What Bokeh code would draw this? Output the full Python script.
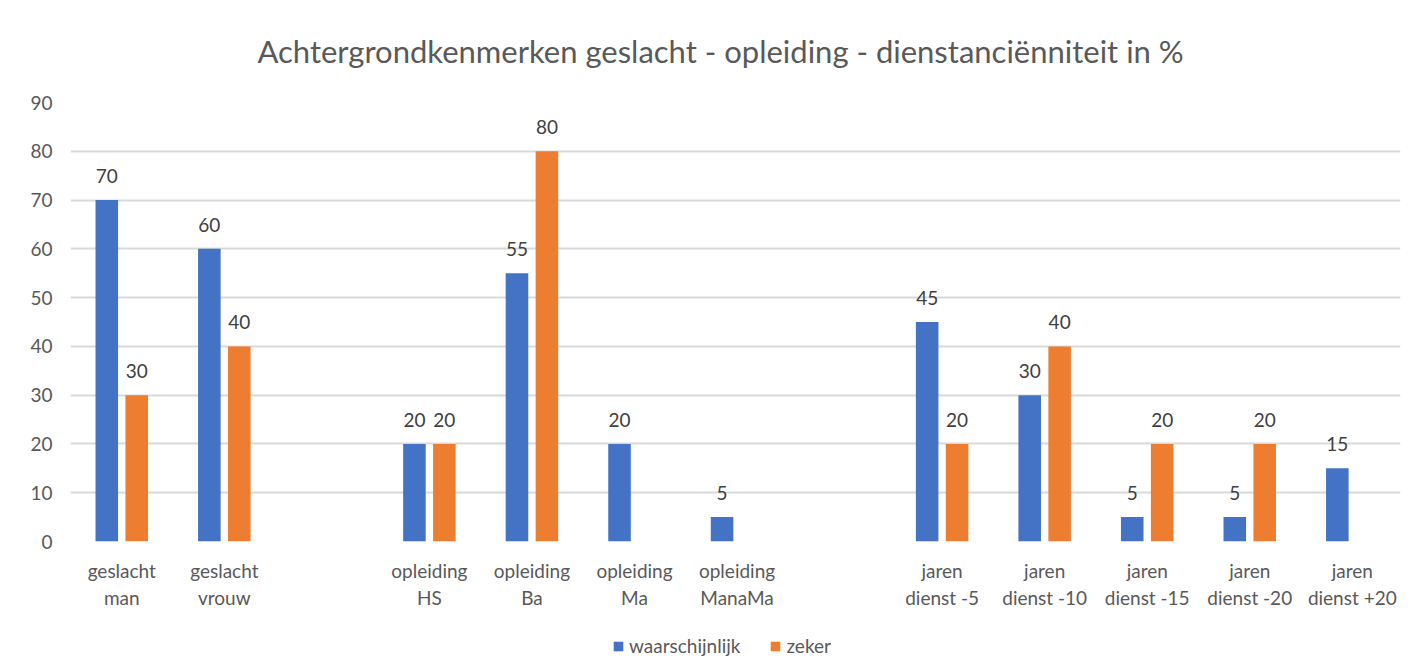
from bokeh.plotting import figure
from bokeh.layouts import column
from bokeh.models import ColumnDataSource, Range1d, FixedTicker, LabelSet, Legend, LegendItem
from bokeh.core.properties import value
from bokeh.transform import dodge
from bokeh.embed import file_html
from bokeh.resources import INLINE

chart_title = "Achtergrondkenmerken geslacht - opleiding - dienstanciënniteit in %"
categories = ["geslacht man", "geslacht vrouw", "",
              "opleiding HS", "opleiding Ba", "opleiding Ma", "opleiding ManaMa", "",
              "jaren dienst -5", "jaren dienst -10", "jaren dienst -15",
              "jaren dienst -20", "jaren dienst +20"]
waarschijnlijk = [70, 60, None, 20, 55, 20, 5, None, 45, 30, 5, 5, 15]
zeker = [30, 40, None, 20, 80, None, None, None, 20, 40, 20, 20, None]
series_names = ["waarschijnlijk", "zeker"]
series_colors = ["#4472C4", "#ED7D31"]
y_ticks = [0, 10, 20, 30, 40, 50, 60, 70, 80, 90]

FONT = "Lato"
GREY = "#595959"

p = figure(frame_width=1330, frame_height=439, output_backend="svg", toolbar_location=None,
           x_range=Range1d(-0.5, 12.47), y_range=Range1d(0, 90),
           min_border_left=70, min_border_right=5, min_border_top=100,
           min_border_bottom=78)

p.title.text = chart_title
p.title.align = "left"
p.title.offset = 187
p.title.vertical_align = "top"
p.title.text_font = FONT
p.title.text_font_size = "31px"
p.title.text_font_style = "normal"
p.title.text_color = GREY
p.title.standoff = 62

offsets = [-0.146, 0.146]
for name, vals, col, off in zip(series_names, [waarschijnlijk, zeker], series_colors, offsets):
    xs = [i for i, v in enumerate(vals) if v is not None]
    ys = [v for v in vals if v is not None]
    src = ColumnDataSource(dict(x=xs, y=ys, lbl=[str(v) for v in ys]))
    p.vbar(x=dodge("x", off, range=p.x_range), top="y", width=0.22, source=src,
           fill_color=col, line_color=None)
    labels = LabelSet(x=dodge("x", off, range=p.x_range), y="y", text="lbl", source=src,
                      text_align="center", text_baseline="bottom", y_offset=17,
                      text_font=value(FONT), text_font_size=value("19px"),
                      text_color="#404040")
    p.add_layout(labels)

p.yaxis.ticker = FixedTicker(ticks=y_ticks)
p.yaxis.axis_line_color = None
p.yaxis.major_tick_line_color = None
p.yaxis.minor_tick_line_color = None
p.yaxis.major_label_text_font = FONT
p.yaxis.major_label_text_font_size = "19px"
p.yaxis.major_label_text_color = GREY
p.yaxis.major_label_standoff = 12

p.xaxis.ticker = FixedTicker(ticks=[i for i, c in enumerate(categories) if c])
p.xaxis.major_label_overrides = {i: c.replace(" ", "\n", 1) for i, c in enumerate(categories) if c}
p.xaxis.axis_line_color = None
p.xaxis.major_tick_line_color = None
p.xaxis.minor_tick_line_color = None
p.xaxis.major_label_text_font = FONT
p.xaxis.major_label_text_font_size = "19px"
p.xaxis.major_label_text_color = GREY
p.xaxis.major_label_text_line_height = 1.18
p.xaxis.major_label_standoff = 11

p.xgrid.visible = False
p.ygrid.ticker = FixedTicker(ticks=y_ticks)
p.ygrid.grid_line_color = "#d9d9d9"
p.ygrid.grid_line_width = 2
p.outline_line_color = None

# legend strip below the chart (proxy swatches for the two series, outside the visible range)
lg = figure(width=1405, height=54, output_backend="svg", toolbar_location=None,
            x_range=Range1d(0, 1), y_range=Range1d(0, 1),
            x_axis_type=None, y_axis_type=None,
            min_border_left=0, min_border_right=0, min_border_top=0, min_border_bottom=0)
lg.outline_line_color = None
legend_items = []
for name, col in zip(series_names, series_colors):
    r = lg.vbar(x=[-10], top=[-10], bottom=[-11], width=0.1, fill_color=col, line_color=None)
    legend_items.append(LegendItem(label=name, renderers=[r]))

legend = Legend(items=legend_items, orientation="horizontal", location=(542, 16),
                glyph_width=12, glyph_height=12, label_standoff=5, spacing=29,
                label_text_font=FONT, label_text_font_size="19px", label_text_color=GREY,
                border_line_color=None, background_fill_alpha=0, margin=0, padding=4)
lg.add_layout(legend)

layout = column(p, lg, spacing=0)
open("out.html", "w").write(file_html(layout, INLINE))
